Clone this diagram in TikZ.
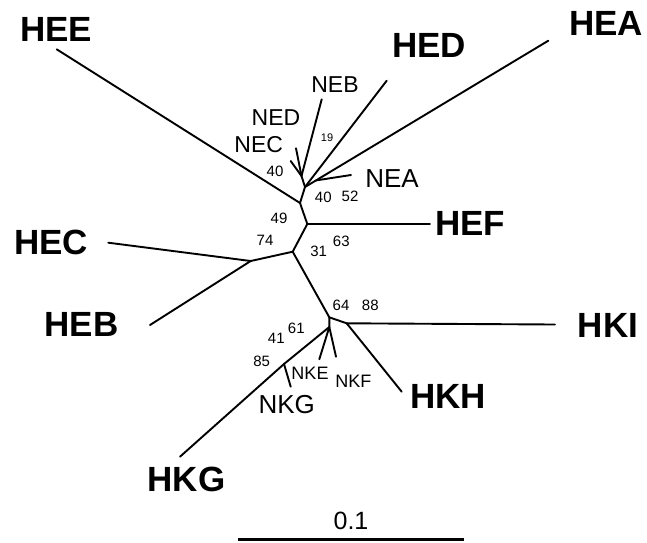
\documentclass[tikz,border=0pt]{standalone}
\usepackage{fontspec}
\setmainfont{Liberation Sans}
\begin{document}
\begin{tikzpicture}[x=1pt,y=-1pt,
  branch/.style={line width=1.9pt, line cap=round, line join=round},
  taxon/.style={font=\fontsize{35}{35}\selectfont\bfseries, inner sep=0pt},
  subtaxon/.style={font=\fontsize{23}{23}\selectfont, inner sep=0pt},
  bigsub/.style={font=\fontsize{26}{26}\selectfont, inner sep=0pt},
  smallsub/.style={font=\fontsize{18}{18}\selectfont, inner sep=0pt},
  boot/.style={font=\fontsize{15}{15}\selectfont, inner sep=0pt},
  smallboot/.style={font=\fontsize{11}{11}\selectfont, inner sep=0pt}]
\path[use as bounding box] (0,0) rectangle (647,542);

% internal nodes
\coordinate (j1) at (300,203);
\coordinate (k1) at (305,187);
\coordinate (neg) at (301.5,176);
\coordinate (na) at (316,180.4);
\coordinate (j2) at (307.3,224);
\coordinate (j3) at (292.7,251.7);
\coordinate (j4) at (250.7,261);
\coordinate (j5) at (329.3,317.3);
\coordinate (j6) at (346.7,323.3);
\coordinate (j8) at (329.3,327);
\coordinate (j7) at (284,364);

% branch tips
\coordinate (tHEE) at (56.7,49.3);
\coordinate (tHED) at (386.7,80.7);
\coordinate (tHEA) at (548.3,40.7);
\coordinate (tNEB) at (321.7,99.3);
\coordinate (tNED) at (296,148.3);
\coordinate (tNEC) at (290.7,161);
\coordinate (tNEA) at (351,175);
\coordinate (tHEF) at (430,224);
\coordinate (tHEC) at (108.3,242.7);
\coordinate (tHEB) at (150,325);
\coordinate (tHKI) at (555,324.5);
\coordinate (tHKH) at (401.7,391.7);
\coordinate (tNKE) at (319.3,359.3);
\coordinate (tNKF) at (336,356.7);
\coordinate (tNKG) at (290.7,386.7);
\coordinate (tHKG) at (180,456.7);

% branches
\draw[branch] (tHEE) -- (j1) -- (j2) -- (tHEF);
\draw[branch] (j1) -- (k1) -- (tHED);
\draw[branch] (k1) -- (na) -- (tHEA);
\draw[branch] (na) -- (tNEA);
\draw[branch] (k1) -- (neg) -- (tNEB);
\draw[branch] (neg) -- (tNED);
\draw[branch] (neg) -- (tNEC);
\draw[branch] (j2) -- (j3) -- (j4) -- (tHEC);
\draw[branch] (j4) -- (tHEB);
\draw[branch] (j3) -- (j5) -- (j6) -- (tHKI);
\draw[branch] (j6) -- (tHKH);
\draw[branch] (j5) -- (j8) -- (j7) -- (tHKG);
\draw[branch] (j7) -- (tNKG);
\draw[branch] (j8) -- (tNKE);
\draw[branch] (j8) -- (tNKF);

% taxon labels
\node[taxon] (HEE) at (56,29.7) {HEE};
\node[taxon] (HED) at (429,45.3) {HED};
\node[taxon] (HEA) at (606,23.5) {HEA};
\node[taxon] (HEF) at (470,223) {HEF};
\node[taxon] (HEC) at (51,242) {HEC};
\node[taxon] (HEB) at (81.5,324.3) {HEB};
\node[taxon] (HKI) at (608,325) {HKI};
\node[taxon] (HKH) at (448,396) {HKH};
\node[taxon] (HKG) at (186.5,479) {HKG};

\node[subtaxon] (NEB) at (335,85) {NEB};
\node[subtaxon] (NED) at (276,117.7) {NED};
\node[subtaxon] (NEC) at (258.7,144.7) {NEC};
\node[bigsub] (NEA) at (392,178.7) {NEA};
\node[bigsub] (NKG) at (286.7,405) {NKG};
\node[smallsub] (NKE) at (310,373.3) {NKE};
\node[smallsub] (NKF) at (353.3,381.7) {NKF};

% bootstrap values
\node[smallboot] (b19) at (327,137.3) {19};
\node[boot] (b40a) at (275,171.3) {40};
\node[boot] (b40b) at (323.3,197.3) {40};
\node[boot] (b52) at (350,196) {52};
\node[boot] (b49) at (279,218.3) {49};
\node[boot] (b74) at (265,240.3) {74};
\node[boot] (b31) at (318.7,251.7) {31};
\node[boot] (b63) at (341.3,241.3) {63};
\node[boot] (b64) at (341,305.3) {64};
\node[boot] (b88) at (370.3,305.3) {88};
\node[boot] (b61) at (296.3,328) {61};
\node[boot] (b41) at (276.3,338.7) {41};
\node[boot] (b85) at (261.7,361) {85};

% scale bar
\coordinate (sb1) at (238,539.5);
\coordinate (sb2) at (464,539.5);
\draw[line width=2.5pt] (sb1) -- (sb2);
\node[font=\fontsize{25}{25}\selectfont, inner sep=0pt] (scale) at (351,521) {0.1};
\end{tikzpicture}
\end{document}
